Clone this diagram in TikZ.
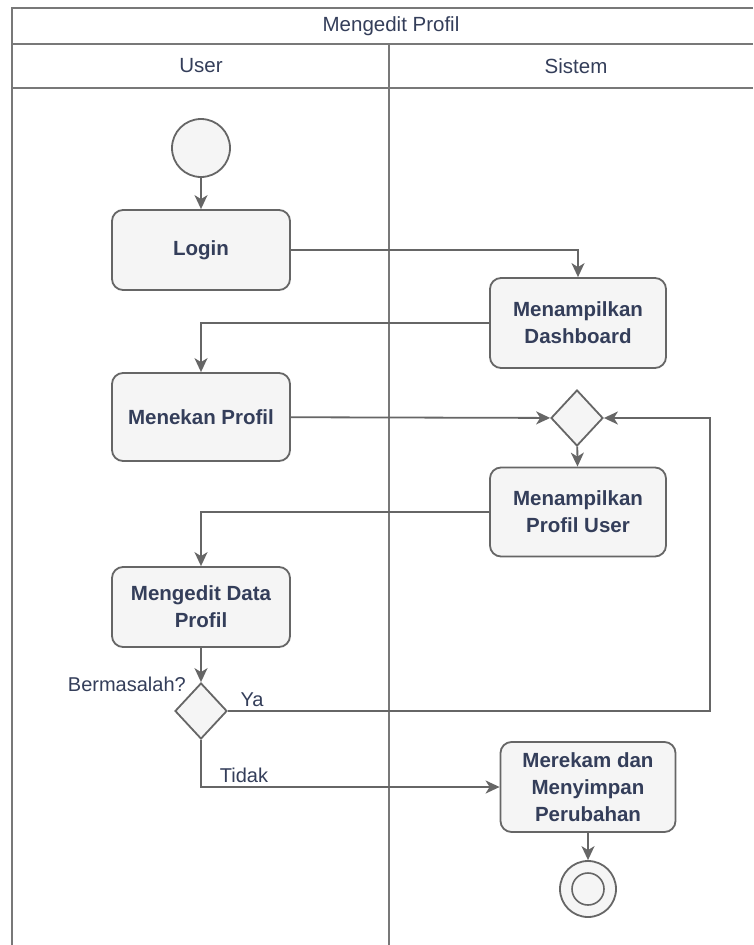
\documentclass[tikz,border=0pt]{standalone}
\usepackage{fontspec}
\setmainfont{Liberation Sans}
\usetikzlibrary{shapes.geometric,arrows.meta}
\definecolor{ink}{RGB}{52,62,90}
\definecolor{edge}{RGB}{102,102,102}
\definecolor{frame}{RGB}{120,120,120}
\definecolor{boxfill}{RGB}{245,245,245}
\begin{document}
\begin{tikzpicture}[x=1pt,y=-1pt,
  lane/.style={draw=frame,line width=1.6pt},
  action/.style={draw=edge,fill=boxfill,line width=1.8pt,rounded corners=11pt,
    align=center,text=ink,font=\fontsize{20.5}{27}\selectfont\bfseries,inner sep=0pt},
  merge/.style={diamond,draw=edge,fill=boxfill,line width=1.8pt,inner sep=0pt,
    minimum width=52pt,minimum height=56pt},
  startnode/.style={circle,draw=edge,fill=boxfill,line width=1.8pt,minimum size=58pt,inner sep=0pt},
  lbl/.style={text=ink,font=\fontsize{20}{24}\selectfont,inner sep=0pt},
  head/.style={text=ink,font=\fontsize{20.5}{24}\selectfont,inner sep=0pt},
  flow/.style={draw=edge,line width=1.8pt,-{Stealth[length=14pt,width=13pt,inset=4pt]}}]
\useasboundingbox (0,0) rectangle (753,945);
\fill[white] (0,0) rectangle (753,945);

% swimlane frame
\draw[lane] (753,8) -- (12,8) -- (12,945);
\draw[lane] (12,44) -- (753,44);
\draw[lane] (12,88) -- (753,88);
\draw[lane] (389,44) -- (389,945);
\node[head] (title) at (391,26) {Mengedit Profil};
\node[head] (huser) at (201,66) {User};
\node[head] (hsys) at (576,66) {Sistem};

% activity nodes
\node[startnode] (start) at (201,148) {};
\node[action,minimum width=178pt,minimum height=80pt] (login) at (201,250) {Login};
\node[action,minimum width=176pt,minimum height=90pt] (dash) at (578,323) {Menampilkan\\Dashboard};
\node[action,minimum width=178pt,minimum height=88pt] (tekan) at (201,417) {Menekan Profil};
\node[merge] (mrg) at (577,418) {};
\node[action,minimum width=176pt,minimum height=89pt] (profil) at (578,512) {Menampilkan\\Profil User};
\node[action,minimum width=178pt,minimum height=80pt] (edit) at (201,607) {Mengedit Data\\Profil};
\node[merge] (dec) at (201,711) {};
\node[action,minimum width=175pt,minimum height=90pt] (simpan) at (588,787) {Merekam dan\\Menyimpan\\Perubahan};
\node[circle,draw=edge,fill=boxfill,line width=1.8pt,minimum size=56pt,inner sep=0pt] (stop) at (588,889) {};
\node[circle,draw=edge,fill=boxfill,line width=1.6pt,minimum size=32pt,inner sep=0pt] (stopin) at (stop) {};
\coordinate (yacorner) at (710,711);

% labels
\node[lbl,anchor=east] (qlbl) at (186,684) {Bermasalah?};
\node[lbl] (ya) at (252,700) {Ya};
\node[lbl] (tidak) at (244,775) {Tidak};

% control flow
\draw[flow] (start) -- (login);
\draw[flow] (login) -| (dash);
\draw[flow] (dash) -| (tekan);
\draw[flow] (tekan) -- (mrg);
\draw[flow] (mrg) -- (profil);
\draw[flow] (profil) -| (edit);
\draw[flow] (edit) -- (dec);
\draw[flow] (dec.east) -- (yacorner) |- (mrg.east);
\draw[flow] (dec.south) |- (simpan.west);
\draw[flow] (simpan) -- (stop);
\end{tikzpicture}
\end{document}
